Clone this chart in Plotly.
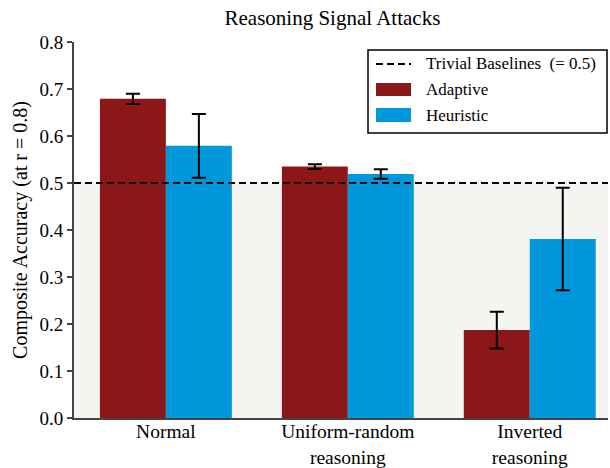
import plotly.graph_objects as go

# Composite accuracy of each attack setting, evaluated at r = 0.8
categories = ["Normal", "Uniform-random<br>reasoning", "Inverted<br>reasoning"]
adaptive_values = [0.679, 0.535, 0.187]
adaptive_errors = [0.011, 0.005, 0.039]
heuristic_values = [0.579, 0.519, 0.381]
heuristic_errors = [0.068, 0.010, 0.109]
baseline_value = 0.5
y_ticks = [0.0, 0.1, 0.2, 0.3, 0.4, 0.5, 0.6, 0.7, 0.8]

ADAPTIVE_COLOR = "#8c1719"
HEURISTIC_COLOR = "#0098da"
FONT = "Liberation Serif"

W, H = 610, 468
ML, MR, MT, MB = 74, 2, 42, 50
PW, PH = W - ML - MR, H - MT - MB


def px(x):
    return (x - ML) / PW


def py(y):
    return (H - MB - y) / PH


err_style = dict(type="data", color="black", thickness=2, width=7)

fig = go.Figure()
fig.add_trace(go.Bar(
    x=categories, y=adaptive_values, name="Adaptive",
    marker=dict(color=ADAPTIVE_COLOR, line=dict(width=0)),
    error_y=dict(array=adaptive_errors, **err_style),
))
fig.add_trace(go.Bar(
    x=categories, y=heuristic_values, name="Heuristic",
    marker=dict(color=HEURISTIC_COLOR, line=dict(width=0)),
    error_y=dict(array=heuristic_errors, **err_style),
))

shapes = [
    # shaded region below the trivial baseline
    dict(type="rect", xref="paper", yref="y", x0=0, x1=1, y0=0, y1=baseline_value,
         fillcolor="#f4f4f0", line=dict(width=0), layer="below"),
    # trivial baseline
    dict(type="line", xref="paper", yref="y", x0=0, x1=1, y0=baseline_value, y1=baseline_value,
         line=dict(color="black", width=2, dash="7px,4px"), layer="above"),
    # legend box
    dict(type="rect", xref="paper", yref="paper", x0=px(368), x1=px(607), y0=py(133), y1=py(50),
         fillcolor="white", line=dict(color="black", width=1.5), layer="above"),
    dict(type="line", xref="paper", yref="paper", x0=px(376), x1=px(411), y0=py(64), y1=py(64),
         line=dict(color="black", width=2, dash="7px,4px"), layer="above"),
    dict(type="rect", xref="paper", yref="paper", x0=px(376), x1=px(411), y0=py(96), y1=py(83),
         fillcolor=ADAPTIVE_COLOR, line=dict(width=0), layer="above"),
    dict(type="rect", xref="paper", yref="paper", x0=px(376), x1=px(411), y0=py(122), y1=py(108),
         fillcolor=HEURISTIC_COLOR, line=dict(width=0), layer="above"),
]

legend_labels = [("Trivial Baselines  (= 0.5)", 64), ("Adaptive", 89), ("Heuristic", 115)]
annotations = [
    dict(text=t, xref="paper", yref="paper", x=px(424), y=py(yy), xanchor="left", yanchor="middle",
         showarrow=False, font=dict(family=FONT, size=17, color="black"))
    for t, yy in legend_labels
]

fig.update_layout(
    width=W, height=H,
    margin=dict(l=ML, r=MR, t=MT, b=MB),
    paper_bgcolor="white", plot_bgcolor="white",
    barmode="group", bargap=0.275, bargroupgap=0,
    showlegend=False,
    font=dict(family=FONT, size=18, color="black"),
    title=dict(text="Reasoning Signal Attacks", x=0.545, xanchor="center", y=0.962, yanchor="middle",
               font=dict(family=FONT, size=21, color="black")),
    shapes=shapes,
    annotations=annotations,
)
fig.update_xaxes(
    range=[-0.505, 2.43], showgrid=False, zeroline=False, automargin=False,
    showline=True, linecolor="#444444", linewidth=2, ticks="",
    tickfont=dict(family=FONT, size=19.5), ticklabelstandoff=-5,
)
fig.update_yaxes(
    range=[0, 0.8], tickvals=y_ticks, tickformat=".1f", showgrid=False, zeroline=False,
    automargin=False,
    showline=True, linecolor="#444444", linewidth=2, ticks="outside", ticklen=5,
    tickcolor="#444444", tickwidth=1.5,
    tickfont=dict(family=FONT, size=19),
    title=dict(text="Composite Accuracy (at r = 0.8)", font=dict(family=FONT, size=20), standoff=6),
)

fig.write_html("out.html")
